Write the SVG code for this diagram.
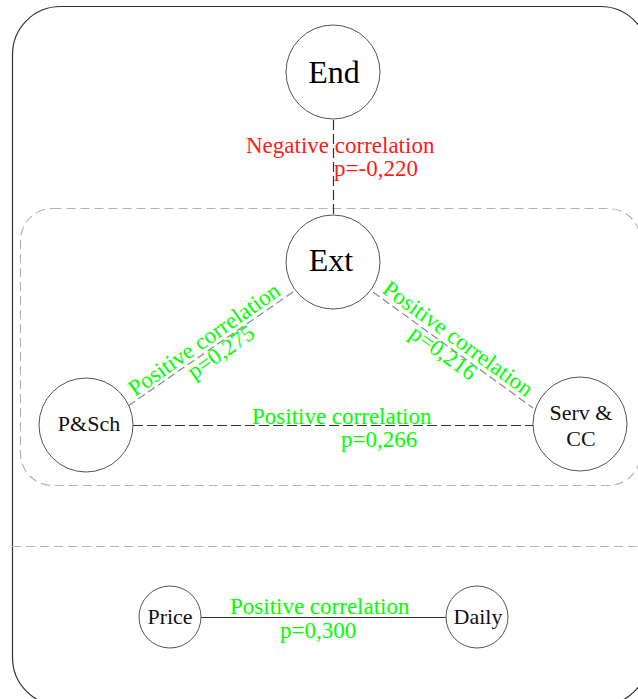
<svg xmlns="http://www.w3.org/2000/svg" width="638" height="699" viewBox="0 0 638 699">
  <style>
    .frame { fill: none; stroke: #333; stroke-width: 1.2; }
    .zone { fill: none; stroke: #b4b4b4; stroke-width: 1.2; stroke-dasharray: 9 5; }
    .node circle { fill: #fff; stroke: #555; stroke-width: 1; }
    .big { font-family: "Liberation Serif", "Times New Roman", serif; font-size: 32px; fill: #000; text-anchor: middle; }
    .small { font-family: "Liberation Serif", "Times New Roman", serif; font-size: 22px; fill: #111; text-anchor: middle; }
    .lbl { font-family: "Liberation Serif", "Times New Roman", serif; font-size: 23px; }
    .pos { fill: #00ff00; }
    .neg { fill: #ff1a1a; }
    .dark-dash { stroke: #333; stroke-width: 1.2; stroke-dasharray: 10 4; fill: none; }
    .grey-dash { stroke: #888; stroke-width: 1.2; stroke-dasharray: 8 4; fill: none; }
    .solid { stroke: #333; stroke-width: 1.2; fill: none; }
  </style>

  <rect width="638" height="699" fill="#fff"/>

  <!-- outer frame and grouping areas -->
  <rect class="frame" x="12.5" y="6.5" width="636" height="699" rx="48" ry="48"/>
  <rect class="zone" x="20.5" y="208.5" width="620" height="277" rx="32" ry="32"/>
  <line class="zone" x1="12" y1="546.5" x2="638" y2="546.5"/>

  <!-- connectors -->
  <g id="connectors">
    <line class="dark-dash" x1="333.5" y1="120" x2="333.5" y2="215"/>
    <line class="grey-dash" x1="293" y1="292" x2="128" y2="406"/>
    <line class="grey-dash" x1="373" y1="292" x2="533" y2="408"/>
    <line class="dark-dash" x1="133" y1="425.5" x2="533" y2="425.5"/>
    <line class="solid" x1="201" y1="617.5" x2="446" y2="617.5"/>

    <text class="lbl neg" x="246" y="153">Negative correlation</text>
    <text class="lbl neg" x="334" y="176">p=-0,220</text>

    <g transform="translate(135,397) rotate(-35)">
      <text class="lbl pos" x="0" y="0">Positive correlation</text>
      <text class="lbl pos" x="58" y="20">p=0,275</text>
    </g>
    <g transform="translate(381,292) rotate(36)">
      <text class="lbl pos" x="0" y="0">Positive correlation</text>
      <text class="lbl pos" x="48" y="20">p=0,216</text>
    </g>

    <text class="lbl pos" x="252" y="424">Positive correlation</text>
    <text class="lbl pos" x="341" y="447">p=0,266</text>

    <text class="lbl pos" x="230" y="614">Positive correlation</text>
    <text class="lbl pos" x="280" y="638">p=0,300</text>
  </g>

  <!-- nodes -->
  <g id="node-end" class="node">
    <circle cx="333" cy="72" r="47"/>
    <text class="big" x="334" y="83">End</text>
  </g>
  <g id="node-ext" class="node">
    <circle cx="333" cy="262" r="47"/>
    <text class="big" x="331" y="271">Ext</text>
  </g>
  <g id="node-psch" class="node">
    <circle cx="86" cy="425" r="47"/>
    <text class="small" x="89" y="431">P&amp;Sch</text>
  </g>
  <g id="node-serv" class="node">
    <circle cx="580" cy="424" r="47"/>
    <text class="small" x="581" y="420">Serv &amp;</text>
    <text class="small" x="581" y="446">CC</text>
  </g>
  <g id="node-price" class="node">
    <circle cx="170" cy="617" r="31"/>
    <text class="small" x="170" y="624">Price</text>
  </g>
  <g id="node-daily" class="node">
    <circle cx="477" cy="617" r="31"/>
    <text class="small" x="478" y="624">Daily</text>
  </g>
</svg>
